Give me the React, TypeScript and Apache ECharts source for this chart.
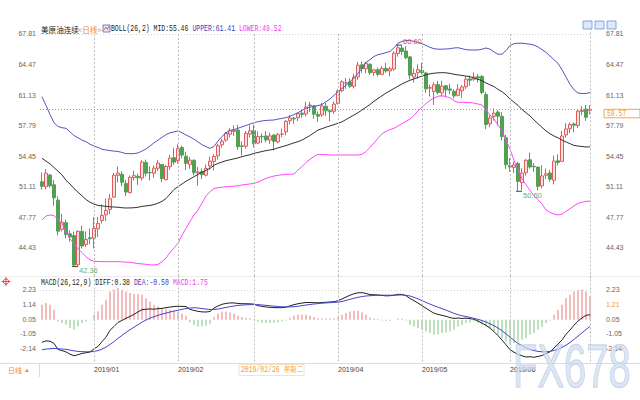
import React, { useEffect, useRef } from 'react';
import * as echarts from 'echarts';

const dates = [
  '2018/12/12','2018/12/13','2018/12/14','2018/12/17','2018/12/18','2018/12/19','2018/12/20','2018/12/21','2018/12/24','2018/12/26','2018/12/27','2018/12/28','2018/12/31',
  '2019/01/02','2019/01/03','2019/01/04','2019/01/07','2019/01/08','2019/01/09','2019/01/10','2019/01/11','2019/01/14','2019/01/15','2019/01/16','2019/01/17','2019/01/18','2019/01/22','2019/01/23','2019/01/24','2019/01/25','2019/01/28','2019/01/29','2019/01/30','2019/01/31',
  '2019/02/01','2019/02/04','2019/02/05','2019/02/06','2019/02/07','2019/02/08','2019/02/11','2019/02/12','2019/02/13','2019/02/14','2019/02/15','2019/02/19','2019/02/20','2019/02/21','2019/02/22','2019/02/25','2019/02/26','2019/02/27','2019/02/28',
  '2019/03/01','2019/03/04','2019/03/05','2019/03/06','2019/03/07','2019/03/08','2019/03/11','2019/03/12','2019/03/13','2019/03/14','2019/03/15','2019/03/18','2019/03/19','2019/03/20','2019/03/21','2019/03/22','2019/03/25','2019/03/26','2019/03/27','2019/03/28','2019/03/29',
  '2019/04/01','2019/04/02','2019/04/03','2019/04/04','2019/04/05','2019/04/08','2019/04/09','2019/04/10','2019/04/11','2019/04/12','2019/04/15','2019/04/16','2019/04/17','2019/04/18','2019/04/22','2019/04/23','2019/04/24','2019/04/25','2019/04/26','2019/04/29','2019/04/30',
  '2019/05/01','2019/05/02','2019/05/03','2019/05/06','2019/05/07','2019/05/08','2019/05/09','2019/05/10','2019/05/13','2019/05/14','2019/05/15','2019/05/16','2019/05/17','2019/05/20','2019/05/21','2019/05/22','2019/05/23','2019/05/24','2019/05/28','2019/05/29','2019/05/30','2019/05/31',
  '2019/06/03','2019/06/04','2019/06/05','2019/06/06','2019/06/07','2019/06/10','2019/06/11','2019/06/12','2019/06/13','2019/06/14','2019/06/17','2019/06/18','2019/06/19','2019/06/20','2019/06/21','2019/06/24','2019/06/25','2019/06/26','2019/06/27','2019/06/28',
  '2019/07/01'
];

const opens = [
  51.65,51.10,52.37,51.31,49.63,46.43,47.17,45.95,45.75,42.56,46.21,44.77,45.51,
  45.47,46.49,47.40,48.02,48.62,49.96,52.35,52.47,51.46,50.46,52.09,52.24,52.05,53.76,52.64,52.58,53.12,53.54,51.86,53.29,54.28,
  53.95,55.39,54.44,53.54,54.00,52.62,52.75,52.36,53.36,53.86,54.48,55.68,56.20,56.85,57.15,57.30,55.57,55.53,56.86,
  57.25,55.87,56.61,56.65,56.20,56.76,56.01,56.86,57.10,58.32,58.60,58.65,59.15,59.05,60.04,59.94,59.00,58.96,59.90,59.41,59.35,
  60.20,61.60,62.45,62.56,62.10,63.13,64.44,64.00,64.50,63.60,63.90,63.40,64.05,63.77,63.97,65.67,66.27,65.95,65.30,63.10,63.58,
  63.83,63.54,61.88,61.52,62.27,61.37,62.15,61.80,61.55,61.10,61.60,62.04,62.90,62.86,63.13,63.16,61.20,57.98,58.80,59.27,58.80,56.45,
  53.40,53.21,53.63,51.56,52.62,54.05,53.34,53.25,51.20,52.35,52.61,51.80,53.93,53.88,56.76,57.45,57.97,57.80,59.34,59.60,
  59.45
];
const highs = [
  52.67,53.04,52.50,51.85,50.06,48.12,47.50,46.33,46.18,46.32,46.83,46.20,46.52,
  47.78,47.80,49.17,49.79,50.32,52.62,53.31,52.80,51.82,52.33,52.85,52.54,54.00,54.06,53.33,53.44,54.04,53.58,53.49,54.59,55.37,
  55.75,55.59,54.94,54.34,54.08,53.26,53.09,53.53,54.41,54.66,55.80,56.35,57.08,57.55,57.81,57.88,56.08,57.20,57.81,
  57.88,57.16,56.92,57.19,57.02,56.80,57.00,57.47,58.40,58.95,58.74,59.23,59.57,60.39,60.39,60.01,59.35,60.28,60.26,59.56,60.42,
  61.76,62.76,62.99,62.95,63.47,64.77,64.79,64.76,64.60,64.00,64.13,64.30,64.64,64.20,65.92,66.60,66.56,66.48,65.40,64.05,64.48,
  64.65,63.70,62.26,62.53,62.68,62.70,62.20,62.37,61.76,62.33,62.22,63.18,63.26,63.59,63.43,63.33,61.47,58.96,59.68,59.49,59.27,56.80,
  54.23,53.84,53.82,53.13,54.13,54.84,53.67,53.27,53.45,53.08,52.93,54.50,54.64,57.21,58.05,58.14,58.12,59.57,59.93,60.05,
  60.00
];
const lows = [
  50.78,50.80,50.99,49.02,45.79,46.20,45.45,45.09,42.36,42.40,44.35,44.50,44.79,
  44.35,45.61,47.07,47.34,48.10,49.89,51.55,51.16,50.07,50.36,51.80,51.30,51.76,52.22,51.78,52.07,52.82,51.58,51.83,52.96,53.51,
  53.64,54.20,52.92,53.06,52.34,51.23,51.93,52.23,52.99,52.88,54.07,55.39,56.01,56.49,56.65,55.12,54.52,55.28,56.50,
  55.42,55.73,55.88,55.94,55.78,55.07,55.84,56.53,56.71,57.91,57.98,58.29,58.66,58.79,59.27,58.52,58.20,58.74,58.85,58.27,59.08,
  60.09,61.45,61.81,61.91,61.85,62.79,63.58,63.50,63.33,63.20,63.18,63.30,63.56,63.19,63.78,65.34,65.48,65.06,62.85,62.48,62.91,
  63.39,61.38,60.96,60.04,61.22,60.93,60.89,61.22,60.75,60.98,60.83,61.80,62.14,62.68,62.51,61.23,57.41,57.60,58.33,57.80,56.18,53.05,
  52.72,52.60,50.60,50.72,52.31,53.08,52.73,50.72,50.93,51.95,51.67,51.36,53.42,53.80,56.47,56.95,57.07,57.53,58.93,58.30,
  59.00
];
const closes = [
  51.15,52.58,51.20,49.88,46.24,47.20,45.88,45.59,42.53,46.22,44.61,45.33,45.41,
  46.54,47.09,47.96,48.52,49.78,52.36,52.59,51.59,50.51,52.11,52.31,52.07,53.80,52.57,52.62,53.13,53.69,51.99,53.31,54.23,53.79,
  55.26,54.56,53.66,54.01,52.64,52.72,52.41,53.10,53.90,54.41,55.59,56.09,56.92,57.26,57.26,55.48,55.50,56.94,57.22,
  55.80,56.59,56.56,56.22,56.66,56.07,56.79,56.87,58.26,58.61,58.52,59.09,59.03,59.83,59.98,59.04,58.82,59.94,59.41,59.30,60.14,
  61.59,62.58,62.46,62.10,63.08,64.40,64.01,64.61,63.58,63.89,63.40,64.05,63.76,64.00,65.70,66.30,65.89,65.21,63.30,63.50,63.91,
  63.60,61.81,61.94,62.25,61.40,62.12,61.70,61.66,61.04,61.78,62.02,62.87,62.76,63.10,62.99,61.42,57.91,58.63,59.14,58.81,56.59,53.50,
  53.25,53.48,51.68,52.59,53.99,53.26,53.27,51.14,52.28,52.51,51.93,53.90,53.76,56.65,57.43,57.90,57.83,59.38,59.43,58.70,
  59.57
];

const bollUpper = [
  60.95,60.0,59.0,58.1,57.7,57.55,57.49,57.1,56.7,56.45,56.2,56.03,55.75,
  55.55,55.4,55.2,55.12,55.05,55.0,54.95,54.85,54.72,54.72,54.72,54.8,55.0,55.23,55.55,55.9,56.2,56.5,56.8,57.0,57.1,
  57.2,57.0,56.76,56.55,56.3,56.0,55.7,55.48,55.3,55.5,56.1,56.6,57.0,57.25,57.35,57.5,57.65,57.8,57.95,
  58.1,58.22,58.3,58.35,58.38,58.4,58.5,58.58,58.66,58.8,59.0,59.2,59.45,59.68,59.8,59.9,59.97,60.1,60.4,60.7,61.1,
  61.5,61.85,62.2,62.6,63.0,63.5,64.05,64.7,65.0,65.35,65.55,65.65,65.77,65.9,66.3,66.8,67.0,67.1,67.1,67.0,66.9,
  66.75,66.55,66.35,66.2,66.15,66.15,66.17,66.2,66.28,66.31,66.2,66.1,66.06,66.06,66.06,66.15,66.28,66.15,65.85,65.6,65.6,66.0,
  66.55,66.75,66.8,66.8,66.75,66.7,66.6,66.4,66.1,65.8,65.4,65.0,64.6,63.9,63.1,62.3,61.7,61.35,61.3,61.3,
  61.41
];
const bollMid = [
  54.21,53.9,53.6,53.2,52.8,52.4,51.8,51.4,50.9,50.5,50.1,49.7,49.4,
  49.2,49.05,49.0,48.95,48.9,48.88,48.85,48.8,48.77,48.78,48.8,48.85,48.95,49.0,49.05,49.15,49.3,49.5,49.8,50.3,50.8,
  51.1,51.4,51.7,51.95,52.2,52.45,52.7,52.9,53.1,53.45,53.65,53.8,53.95,54.05,54.15,54.25,54.39,54.5,54.6,
  54.75,54.85,54.95,55.05,55.12,55.2,55.35,55.48,55.6,55.75,55.9,56.03,56.2,56.45,56.7,57.0,57.3,57.45,57.62,57.75,57.9,
  58.04,58.2,58.45,58.7,58.95,59.2,59.5,59.8,60.1,60.45,60.75,61.05,61.35,61.6,61.85,62.1,62.35,62.55,62.75,62.9,63.05,
  63.2,63.35,63.45,63.52,63.56,63.58,63.56,63.5,63.4,63.33,63.28,63.2,63.14,63.0,62.85,62.7,62.45,62.25,62.05,61.75,61.5,61.15,
  60.7,60.35,60.0,59.55,59.2,58.85,58.4,58.0,57.6,57.2,56.9,56.65,56.45,56.2,56.0,55.8,55.62,55.55,55.5,55.45,
  55.46
];
const bollLower = [
  47.46,47.9,48.0,47.95,47.5,47.1,46.2,45.4,44.9,44.3,43.9,43.45,43.1,
  42.95,42.92,42.9,42.9,42.9,42.9,42.9,42.88,42.85,42.83,42.75,42.7,42.65,42.61,42.55,42.54,42.6,42.9,43.3,43.9,44.4,
  44.91,45.8,46.55,47.3,48.0,48.55,49.3,50.1,50.56,50.9,51.0,51.05,51.1,51.13,51.16,51.2,51.29,51.35,51.4,
  51.47,51.6,51.8,52.02,52.15,52.27,52.35,52.4,52.45,52.46,52.5,52.93,53.3,53.75,54.1,54.4,54.64,54.62,54.6,54.58,54.57,
  54.57,54.57,54.57,54.57,54.57,54.57,54.65,54.95,55.4,55.9,56.4,56.9,57.15,57.35,57.49,57.75,58.0,58.25,58.5,58.9,59.4,
  59.8,60.2,60.55,60.8,61.0,61.06,60.95,60.84,60.5,60.33,60.33,60.33,60.3,60.25,60.15,60.04,59.5,58.95,58.5,57.85,57.2,56.21,
  55.2,54.0,53.0,52.0,51.3,50.7,50.1,49.7,49.2,48.55,48.3,48.1,48.01,48.1,48.4,48.7,49.0,49.28,49.4,49.5,
  49.52
];

const macdDiff = [
  -1.69,-1.58,-1.61,-1.77,-2.23,-2.31,-2.41,-2.58,-2.7,-2.62,-2.52,-2.47,-2.42,
  -2.18,-2.0,-1.64,-1.3,-0.79,-0.5,-0.2,-0.05,0.11,0.25,0.4,0.59,0.75,0.79,0.81,0.79,0.83,0.85,0.91,0.95,0.99,
  1.01,1.0,0.99,0.78,0.7,0.63,0.59,0.58,0.62,0.87,1.03,1.16,1.22,1.26,1.26,1.22,1.2,1.2,1.19,
  1.17,1.06,1.0,0.96,0.93,0.91,0.9,0.91,0.94,1.04,1.13,1.2,1.25,1.29,1.29,1.28,1.27,1.29,1.31,1.33,1.35,
  1.42,1.56,1.7,1.84,1.95,2.02,2.03,1.97,1.89,1.87,1.86,1.82,1.79,1.8,1.84,1.9,1.9,1.8,1.59,1.43,1.25,
  1.06,0.86,0.67,0.49,0.4,0.33,0.26,0.16,0.1,0.13,0.1,0.12,0.08,0.04,-0.1,-0.25,-0.42,-0.62,-0.89,-1.19,-1.52,-1.87,
  -2.24,-2.43,-2.59,-2.7,-2.79,-2.77,-2.81,-2.75,-2.68,-2.53,-2.4,-2.12,-1.83,-1.51,-1.09,-0.77,-0.41,-0.1,0.14,0.33,
  0.38
];
const macdDea = [
  -2.25,-2.2,-2.17,-2.15,-2.17,-2.19,-2.22,-2.27,-2.33,-2.37,-2.39,-2.4,-2.4,
  -2.37,-2.31,-2.2,-2.05,-1.85,-1.63,-1.39,-1.17,-0.95,-0.75,-0.56,-0.37,-0.18,-0.02,0.12,0.23,0.33,0.42,0.5,0.58,0.65,
  0.71,0.78,0.84,0.88,0.9,0.88,0.84,0.8,0.77,0.77,0.8,0.86,0.92,0.98,1.03,1.07,1.1,1.12,1.13,
  1.14,1.13,1.11,1.08,1.05,1.02,0.99,0.97,0.96,0.96,0.98,1.01,1.06,1.1,1.14,1.18,1.21,1.24,1.26,1.28,1.3,
  1.32,1.37,1.45,1.53,1.61,1.68,1.74,1.78,1.8,1.82,1.83,1.84,1.84,1.84,1.84,1.85,1.86,1.83,1.78,1.68,1.56,
  1.43,1.3,1.17,1.05,0.94,0.83,0.72,0.6,0.48,0.38,0.3,0.24,0.18,0.1,0.03,-0.06,-0.17,-0.3,-0.45,-0.62,-0.82,-1.05,
  -1.3,-1.55,-1.77,-1.95,-2.1,-2.22,-2.31,-2.37,-2.4,-2.4,-2.37,-2.3,-2.2,-2.07,-1.9,-1.7,-1.47,-1.23,-0.98,-0.73,
  -0.5
];
const macdBar = [
  1.12,1.25,1.12,0.75,-0.13,-0.25,-0.38,-0.63,-0.75,-0.5,-0.25,-0.13,-0.03,
  0.37,0.62,1.12,1.5,2.12,2.25,2.37,2.25,2.12,2.0,1.92,1.92,1.87,1.62,1.37,1.12,0.99,0.87,0.82,0.75,0.67,
  0.6,0.45,0.3,-0.2,-0.4,-0.5,-0.5,-0.45,-0.3,0.2,0.45,0.6,0.6,0.55,0.45,0.3,0.2,0.15,0.12,
  0.05,-0.15,-0.22,-0.25,-0.25,-0.22,-0.18,-0.12,-0.05,0.15,0.3,0.37,0.37,0.37,0.3,0.2,0.12,0.1,0.1,0.1,0.1,
  0.2,0.37,0.5,0.62,0.67,0.67,0.57,0.37,0.17,0.1,0.05,-0.05,-0.1,-0.08,0.0,0.1,0.08,-0.05,-0.38,-0.5,-0.63,
  -0.75,-0.88,-1.0,-1.13,-1.08,-1.0,-0.93,-0.88,-0.75,-0.5,-0.4,-0.25,-0.2,-0.13,-0.25,-0.38,-0.5,-0.63,-0.88,-1.13,-1.4,-1.63,
  -1.88,-1.75,-1.63,-1.5,-1.38,-1.1,-1.0,-0.75,-0.55,-0.25,-0.05,0.37,0.75,1.12,1.62,1.87,2.12,2.25,2.25,2.12,
  1.75
];

const priceTickLabels = ['44.43', '47.77', '51.11', '54.45', '57.79', '61.13', '64.47', '67.81'];
const macdTickLabels = ['-2.14', '-1.05', '0.05', '1.14', '2.23'];
const monthLabelDates = ['2019/01/02', '2019/02/01', '2019/04/01', '2019/05/01', '2019/06/03'];
const gridLineDates = ['2019/01/02', '2019/02/01', '2019/03/01', '2019/04/01', '2019/05/01', '2019/06/03'];
const extremeIdx = [8, 89, 119];
const extremeKind = ['low', 'high', 'low'];

const PRICE_MIN = 41.09, PRICE_MAX = 71.15, PRICE_STEP = 3.34;
const MACD_MIN = -3.2325, MACD_MAX = 3.3225, MACD_STEP = 1.0925;

const MONO = '"Liberation Mono", "DejaVu Sans Mono", monospace';
const CJK = '"Noto Sans CJK SC", sans-serif';
const SANS = '"Liberation Sans", Arial, sans-serif';
const SX = 0.76;

function monoText(x: number, y: number, text: string, fill: string, z = 50) {
  return {
    type: 'text', x, y, z, scaleX: SX, silent: true,
    style: { text, fill, font: `8.5px ${MONO}`, textAlign: 'left', textVerticalAlign: 'middle', align: 'left', verticalAlign: 'middle' },
  };
}
function plainText(x: number, y: number, text: string, fill: string, font: string, z = 50) {
  return {
    type: 'text', x, y, z, silent: true,
    style: { text, fill, font, textAlign: 'left', textVerticalAlign: 'middle', align: 'left', verticalAlign: 'middle' },
  };
}

function buildOption() {
  const last = dates.length - 1;
  const lastClose = closes[last];
  const candleData = dates.map((_, i) => [opens[i], closes[i], lows[i], highs[i]]);
  const axisLabelBase = { fontSize: 7, color: '#666', fontFamily: SANS };

  const priceAxis = (position: 'left' | 'right', margin: number) => ({
    type: 'value', gridIndex: 0, position, min: PRICE_MIN, max: PRICE_MAX, interval: PRICE_STEP,
    axisLine: { show: false }, axisTick: { show: false }, splitLine: { show: false },
    axisLabel: { ...axisLabelBase, margin, formatter: (_v: number, i: number) => priceTickLabels[i - 1] ?? '' },
  });
  const macdAxis = (position: 'left' | 'right', margin: number) => ({
    type: 'value', gridIndex: 1, position, min: MACD_MIN, max: MACD_MAX, interval: MACD_STEP,
    axisLine: { show: false }, axisTick: { show: false }, splitLine: { show: false },
    axisLabel: { ...axisLabelBase, margin, formatter: (_v: number, i: number) => macdTickLabels[i - 1] ?? '' },
  });

  const vDash = { color: '#bdbdbd', type: [2, 2], width: 1 };
  const mainMarkLines = [
    ...gridLineDates.map((d) => [{ coord: [d, 67.81] }, { coord: [d, PRICE_MIN] }]),
    [{ coord: [dates[last], 69.3] }, { coord: [dates[last], PRICE_MIN] }],
    { yAxis: 67.81, lineStyle: { color: '#d6d6d6', type: [1, 2], width: 1 } },
    { yAxis: lastClose, lineStyle: { color: '#6ea6ee', type: [1, 2], width: 1 } },
  ];
  const macdMarkLines = [
    ...gridLineDates.map((d) => [{ coord: [d, MACD_MAX] }, { coord: [d, MACD_MIN] }]),
    [{ coord: [dates[last], MACD_MAX] }, { coord: [dates[last], MACD_MIN] }],
    { yAxis: 2.23, lineStyle: { color: '#d6d6d6', type: [1, 2], width: 1 } },
  ];

  const markPoints = extremeIdx.map((idx, j) => {
    const isHigh = extremeKind[j] === 'high';
    const v = isHigh ? highs[idx] : lows[idx];
    return {
      coord: [dates[idx], v],
      symbol: 'rect', symbolSize: [6, 1], symbolOffset: [1, 0],
      itemStyle: { color: '#444' },
      label: {
        show: true, position: 'right', distance: 1, offset: [0, isHigh ? -4 : 4],
        formatter: v.toFixed(2), color: isHigh ? '#e06262' : '#6caa6c', fontSize: 7.5, fontFamily: SANS,
      },
    };
  });

  const graphic: any[] = [
    // header main
    plainText(41, 29, '美原油连续', '#222', `7.6px ${CJK}`),
    plainText(78, 29, '<日线>', '#f08a1c', `7.6px ${CJK}`),
    { type: 'rect', shape: { x: 103, y: 25, width: 7, height: 7 }, z: 50, silent: true, style: { fill: '#e8eefa', stroke: '#4a5fc0', lineWidth: 0.8 } },
    { type: 'polyline', shape: { points: [[104, 30], [106, 27], [107.5, 29.5], [109, 26]] }, z: 51, silent: true, style: { stroke: '#e03a3a', lineWidth: 0.8, fill: 'none' } },
    monoText(111, 29, 'BOLL(26,2) MID:55.46', '#222'),
    monoText(192.5, 29, 'UPPER:61.41', '#3c3cc0'),
    monoText(239, 29, 'LOWER:49.52', '#ee3cee'),
    // header macd
    monoText(41, 282.5, 'MACD(26,12,9) DIFF:0.38', '#222'),
    monoText(134, 282.5, 'DEA:-0.50', '#3c3cc0'),
    monoText(173, 282.5, 'MACD:1.75', '#ee3cee'),
    // red crosshair icon
    { type: 'circle', shape: { cx: 6, cy: 281.5, r: 2.6 }, z: 50, silent: true, style: { fill: 'none', stroke: '#e03030', lineWidth: 0.9 } },
    { type: 'line', shape: { x1: 1.5, y1: 281.5, x2: 10.5, y2: 281.5 }, z: 50, silent: true, style: { stroke: '#e03030', lineWidth: 0.8 } },
    { type: 'line', shape: { x1: 6, y1: 277, x2: 6, y2: 286 }, z: 50, silent: true, style: { stroke: '#e03030', lineWidth: 0.8 } },
    // top-right buttons
    ...[583, 595, 607].map((x) => ({ type: 'rect', shape: { x, y: 21, width: 9, height: 8 }, z: 50, silent: true, style: { fill: '#dde8f8', stroke: '#6f95d0', lineWidth: 0.8 } })),
    // separators
    { type: 'line', shape: { x1: 0, y1: 276.5, x2: 640, y2: 276.5 }, z: 1, silent: true, style: { stroke: '#ececec', lineWidth: 1 } },
    { type: 'line', shape: { x1: 0, y1: 363.5, x2: 640, y2: 363.5 }, z: 1, silent: true, style: { stroke: '#dcdcdc', lineWidth: 1 } },
    { type: 'line', shape: { x1: 39.5, y1: 364, x2: 39.5, y2: 377 }, z: 1, silent: true, style: { stroke: '#dcdcdc', lineWidth: 1 } },
    // bottom-left period
    plainText(8, 370, '日线', '#f08a1c', `7px ${CJK}`),
    plainText(24, 370, '▲', '#f08a1c', `6px ${SANS}`),
    // crosshair date label
    { type: 'rect', shape: { x: 239, y: 364.5, width: 65, height: 11 }, z: 60, silent: true, style: { fill: '#fff', stroke: '#f4e2cc', lineWidth: 1 } },
    monoText(241, 370, '2019/02/26 星期二', '#f39a2e', 61),
    // right price label
    { type: 'rect', shape: { x: 604, y: 109.3, width: 36, height: 8.5 }, z: 60, silent: true, style: { fill: '#fff', stroke: '#f7a34a', lineWidth: 1 } },
    monoText(607, 113.6, lastClose.toFixed(2), '#f39a2e', 61),
    // right macd crosshair label
    { type: 'rect', shape: { x: 603, y: 299.5, width: 30, height: 9 }, z: 60, silent: true, style: { fill: '#fff' } },
    plainText(606, 304.5, '1.21', '#f39a2e', `7px ${SANS}`, 61),
    // watermark
    {
      type: 'text', x: 513, y: 366, z: 90, scaleY: 1.55, silent: true,
      style: { text: 'FX678', font: `40px ${SANS}`, fill: 'rgba(205,220,240,0.7)', stroke: 'rgba(150,175,210,0.5)', lineWidth: 0.9, textAlign: 'left', textVerticalAlign: 'middle', align: 'left', verticalAlign: 'middle' },
    },
  ];

  return {
    animation: false,
    backgroundColor: '#ffffff',
    grid: [
      { left: 40, width: 552, top: 3.47, height: 274.73 },
      { left: 40, width: 552, top: 275.4, height: 87.5 },
    ],
    xAxis: [
      { type: 'category', gridIndex: 0, data: dates, boundaryGap: true, axisLine: { show: false }, axisTick: { show: false }, axisLabel: { show: false }, splitLine: { show: false } },
      {
        type: 'category', gridIndex: 1, data: dates, boundaryGap: true, axisLine: { show: false }, axisTick: { show: false }, splitLine: { show: false },
        axisLabel: {
          fontSize: 7, color: '#444', fontFamily: SANS, align: 'left', margin: 3,
          interval: (_i: number, v: string) => monthLabelDates.includes(v),
          formatter: (v: string) => v.slice(0, 7),
        },
      },
    ],
    yAxis: [priceAxis('left', 4), priceAxis('right', 14), macdAxis('left', 4), macdAxis('right', 14)],
    graphic,
    series: [
      {
        type: 'candlestick', xAxisIndex: 0, yAxisIndex: 0, data: candleData, barWidth: 3,
        itemStyle: { color: '#fbe0e0', color0: '#52a052', borderColor: '#e25b5b', borderColor0: '#52a052', borderWidth: 1 },
        markLine: { silent: true, symbol: ['none', 'none'], label: { show: false }, lineStyle: vDash, data: mainMarkLines },
        markPoint: { silent: true, data: markPoints },
      },
      { type: 'line', xAxisIndex: 0, yAxisIndex: 0, data: bollUpper, symbol: 'none', lineStyle: { color: '#5555c4', width: 1 }, z: 3 },
      { type: 'line', xAxisIndex: 0, yAxisIndex: 0, data: bollMid, symbol: 'none', lineStyle: { color: '#333333', width: 1 }, z: 3 },
      { type: 'line', xAxisIndex: 0, yAxisIndex: 0, data: bollLower, symbol: 'none', lineStyle: { color: '#ff48ff', width: 1 }, z: 3 },
      {
        type: 'bar', xAxisIndex: 1, yAxisIndex: 2, barWidth: 1,
        data: macdBar.map((v) => ({ value: v, itemStyle: { color: v >= 0 ? '#e87c7c' : '#7fc27f' } })),
      },
      {
        type: 'line', xAxisIndex: 1, yAxisIndex: 2, data: macdDiff, symbol: 'none', lineStyle: { color: '#222', width: 1 }, z: 3,
        markLine: { silent: true, symbol: ['none', 'none'], label: { show: false }, lineStyle: vDash, data: macdMarkLines },
      },
      { type: 'line', xAxisIndex: 1, yAxisIndex: 2, data: macdDea, symbol: 'none', lineStyle: { color: '#4646cc', width: 1 }, z: 3 },
    ],
  };
}

export default function App() {
  const ref = useRef<HTMLDivElement>(null);
  useEffect(() => {
    if (!ref.current) return;
    const chart = echarts.init(ref.current, undefined, { renderer: 'svg' });
    chart.setOption(buildOption() as any);
    return () => chart.dispose();
  }, []);
  return <div ref={ref} style={{ position: 'fixed', left: 0, top: 0, width: 640, height: 400, background: '#fff' }} />;
}
